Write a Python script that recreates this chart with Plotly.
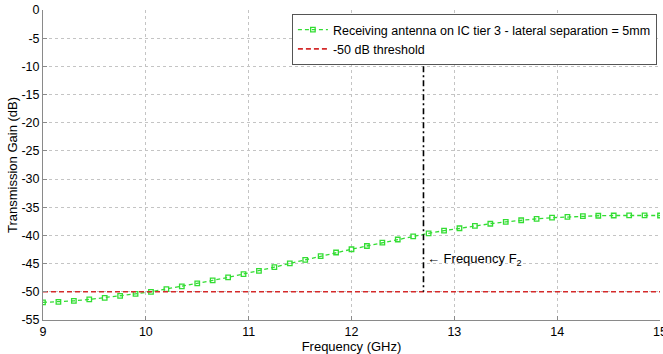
import plotly.graph_objects as go

freq_ghz = [9.00, 9.15, 9.30, 9.45, 9.60, 9.75, 9.90, 10.05, 10.20, 10.35,
            10.50, 10.65, 10.80, 10.95, 11.10, 11.25, 11.40, 11.55, 11.70, 11.85,
            12.00, 12.15, 12.30, 12.45, 12.60, 12.75, 12.90, 13.05, 13.20, 13.35,
            13.50, 13.65, 13.80, 13.95, 14.10, 14.25, 14.40, 14.55, 14.70, 14.85, 15.00]
gain_db = [-51.88, -51.77, -51.60, -51.35, -51.06, -50.71, -50.36, -50.00, -49.52, -49.04,
           -48.51, -47.98, -47.44, -46.86, -46.27, -45.62, -44.96, -44.32, -43.65, -43.02,
           -42.45, -41.87, -41.28, -40.72, -40.15, -39.62, -39.15, -38.72, -38.30, -37.92,
           -37.60, -37.30, -37.05, -36.85, -36.70, -36.58, -36.50, -36.46, -36.44, -36.44, -36.46]
threshold_x = [9, 15]
threshold_y = [-50, -50]
f2_x = [12.7, 12.7]
f2_y = [-10, -50]
x_ticks = [9, 10, 11, 12, 13, 14, 15]
y_ticks = [0, -5, -10, -15, -20, -25, -30, -35, -40, -45, -50, -55]

FONT = "Liberation Sans, Arial, Helvetica, sans-serif"

fig = go.Figure()
fig.add_trace(go.Scatter(
    x=freq_ghz, y=gain_db, mode="lines+markers",
    name="Receiving antenna on IC tier 3 - lateral separation = 5mm",
    line=dict(color="#33dd33", width=1.3, dash="4px,3px"),
    marker=dict(symbol="square-open", size=4.5, color="#33dd33", line=dict(width=1.3, color="#33dd33")),
))
fig.add_trace(go.Scatter(
    x=threshold_x, y=threshold_y, mode="lines",
    name="-50 dB threshold",
    line=dict(color="#d42a2a", width=1.6, dash="5px,3px"),
))
fig.add_trace(go.Scatter(
    x=f2_x, y=f2_y, mode="lines", showlegend=False,
    line=dict(color="black", width=1.6, dash="6px,3px,2px,3px"),
))
fig.add_annotation(
    x=12.71, y=-44.2, xref="x", yref="y", showarrow=False, xanchor="left", yanchor="middle",
    text="\u2190 Frequency F<sub>2</sub>", font=dict(family=FONT, size=13, color="black"),
)

axis_common = dict(
    showline=True, linecolor="#8a8a8a", linewidth=1,
    ticks="inside", ticklen=4, tickcolor="#8a8a8a",
    showgrid=True, gridcolor="#c4c4c4", griddash="dot", gridwidth=1,
    zeroline=False, tickfont=dict(family=FONT, size=12.5, color="black"),
    mirror=False, ticklabeloverflow="allow", automargin=False,
)
fig.update_xaxes(range=[9, 15], tickvals=x_ticks, ticktext=[str(v) for v in x_ticks],
                 title=dict(text="Frequency (GHz)", font=dict(family=FONT, size=13, color="black"), standoff=0),
                 **axis_common)
fig.update_yaxes(range=[-55, 0], tickvals=y_ticks, ticktext=[str(v) for v in y_ticks],
                 title=dict(text="Transmission Gain (dB)", font=dict(family=FONT, size=13, color="black"), standoff=0),
                 **axis_common)

fig.update_layout(
    width=663, height=354,
    margin=dict(l=43, r=3, t=10, b=34, autoexpand=False),
    paper_bgcolor="white", plot_bgcolor="white",
    font=dict(family=FONT, size=12, color="black"),
    legend=dict(x=0.995, y=0.987, xanchor="right", yanchor="top",
                bgcolor="white", bordercolor="#555555", borderwidth=1,
                font=dict(family=FONT, size=12.5, color="black"),
                itemwidth=30, tracegroupgap=0),
)

fig.write_html("out.html")
